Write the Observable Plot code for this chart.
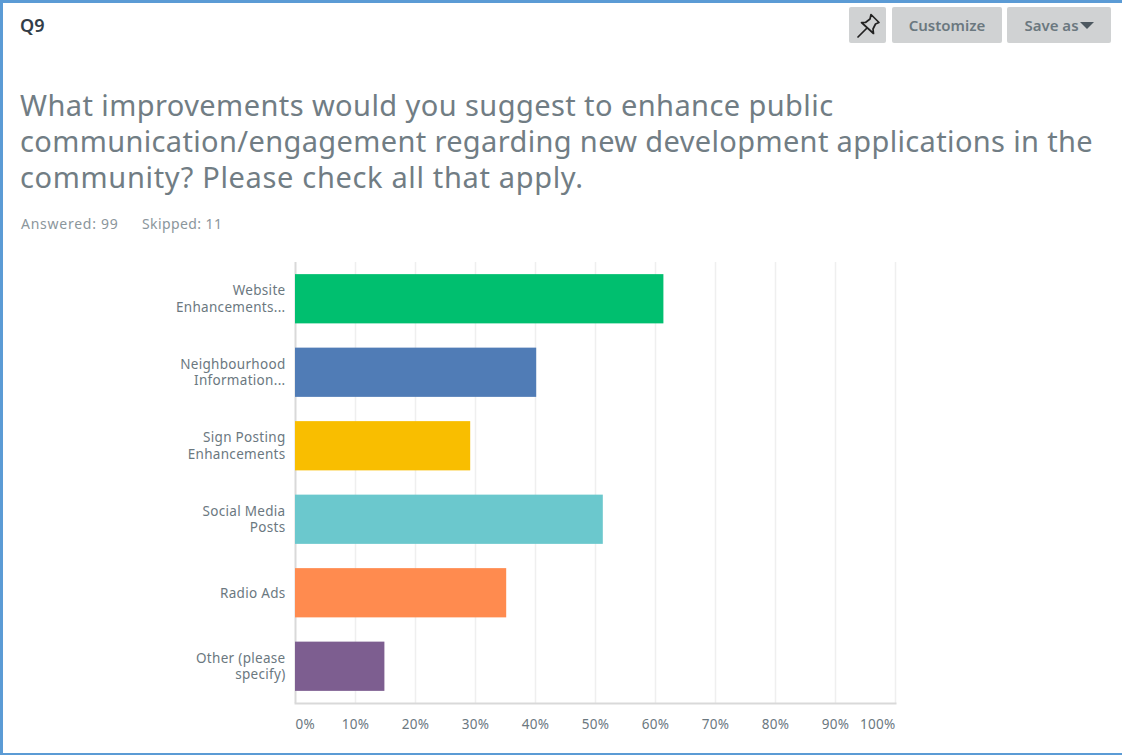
<!DOCTYPE html>
<html>
<head>
<meta charset="utf-8">
<script src="https://cdn.jsdelivr.net/npm/d3@7"></script>
<script src="https://cdn.jsdelivr.net/npm/@observablehq/plot@0.6"></script>
<style>
  html, body { margin: 0; padding: 0; background: #fff; }
  body { width: 1122px; height: 755px; overflow: hidden; font-family: "Noto Sans", sans-serif; }
  #card { position: relative; width: 1122px; height: 755px; box-sizing: border-box; overflow: hidden; }
  .edge { position: absolute; background: #5b9bd5; }
  #q { position: absolute; left: 20px; top: 14px; font-size: 18px; font-weight: 600; color: #333e48; line-height: 22px; }
  #title { position: absolute; left: 20px; top: 87px; width: 1095px; font-size: 29px; letter-spacing: 0.36px; line-height: 36px; color: #717d84; white-space: nowrap; }
  .meta { position: absolute; top: 215px; font-size: 14px; letter-spacing: 0.4px; line-height: 18px; color: #8b969c; white-space: pre; }
  .btn { position: absolute; top: 7px; height: 36px; background: #d0d2d3; border-radius: 2px; color: #6b787f;
         font-size: 15px; font-weight: 600; line-height: 37px; text-align: center; white-space: nowrap; }
  .caret { display: inline-block; width: 0; height: 0; border-left: 7px solid transparent; border-right: 7px solid transparent;
           border-top: 7px solid #4d5860; vertical-align: 2px; margin-left: 1px; }
  #chart { position: absolute; left: 0; top: 245px; }
  #chart svg { display: block; background: transparent; }
  #chart svg text { letter-spacing: 0.3px; }
</style>
</head>
<body>
<div id="card">
  <div class="edge" style="left:0;top:0;width:1122px;height:3px"></div>
  <div class="edge" style="left:0;top:0;width:3px;height:755px"></div>
  <div class="edge" style="left:0;top:753px;width:1122px;height:2px"></div>
  <div id="q">Q9</div>
  <div class="btn" style="left:849px;width:37px">
    <svg width="37" height="36" viewBox="0 0 37 36" style="display:block">
      <g fill="none" stroke="#222" stroke-width="1.7" stroke-linejoin="round" stroke-linecap="round">
        <path d="M22 7.5 L30 15.5 L26.5 17 L24 22 L24.5 26.5 L12.5 15.5 L16.5 15.5 L21 12 Z"/>
        <path d="M17.5 21.5 L9 30"/>
      </g>
    </svg>
  </div>
  <div class="btn" style="left:892px;width:110px">Customize</div>
  <div class="btn" style="left:1007px;width:104px">Save as<span class="caret"></span></div>
  <div id="title"><span style="letter-spacing:0.42px">What improvements would you suggest to enhance public</span><br>communication/engagement regarding new development applications in the<br><span style="letter-spacing:0.66px">community? Please check all that apply.</span></div>
  <div class="meta" style="left:21px;letter-spacing:0.75px">Answered: 99</div>
  <div class="meta" style="left:142px">Skipped: 11</div>
  <div id="chart"></div>
</div>
<script>
// Share of respondents choosing each option, in percent
const categories = [
  "Website\nEnhancements...",
  "Neighbourhood\nInformation...",
  "Sign Posting\nEnhancements",
  "Social Media\nPosts",
  "Radio Ads",
  "Other (please\nspecify)"
];
const percents = [61.4, 40.2, 29.2, 51.3, 35.2, 14.9];
const barColors = ["#00bf6f", "#507cb6", "#f9be00", "#6bc8cd", "#ff8b4f", "#7d5e90"];
const middleTicks = [10, 20, 30, 40, 50, 60, 70, 80, 90];
const gridTicks = [...middleTicks, 100];

const rows = categories.map((name, i) => ({name, percent: percents[i]}));
const labelFont = {fontSize: 13.5, fill: "#6b787f"};
const pct = d => `${d}%`;
const tickGap = 16;

const chart = Plot.plot({
  width: 1122,
  height: 510,
  marginLeft: 295,
  marginRight: 227,
  marginTop: 17,
  marginBottom: 52,
  style: {fontFamily: "'Noto Sans', sans-serif", background: "transparent"},
  x: {domain: [0, 100]},
  y: {domain: categories, paddingInner: 0.33, paddingOuter: 0.165, round: false, label: null},
  color: {domain: categories, range: barColors},
  marks: [
    Plot.ruleX(gridTicks, {x: d => d, stroke: "#efefef", strokeWidth: 1.5, strokeOpacity: 1}),
    Plot.ruleX([0], {stroke: "#d9d9d9", strokeWidth: 2}),
    Plot.barX(rows, {x: "percent", y: "name", fill: "name"}),
    Plot.axisY({
      anchor: "left", tickSize: 0, tickPadding: 10, label: null, lineHeight: 1.22,
      textAnchor: "end", dy: -1, ...labelFont
    }),
    Plot.axisX({
      anchor: "bottom", ticks: middleTicks, tickFormat: pct, tickSize: 0, tickPadding: tickGap,
      label: null, ...labelFont
    }),
    // The two end labels stay inside the plot's width
    Plot.axisX({
      anchor: "bottom", ticks: [0], tickFormat: pct, tickSize: 0, tickPadding: tickGap,
      textAnchor: "start", label: null, ...labelFont
    }),
    Plot.axisX({
      anchor: "bottom", ticks: [100], tickFormat: pct, tickSize: 0, tickPadding: tickGap,
      textAnchor: "end", label: null, ...labelFont
    }),
    // Baseline along the bottom of the plot area
    Plot.frame({anchor: "bottom", stroke: "#d9d9d9", strokeWidth: 2, strokeOpacity: 1})
  ]
});
document.getElementById("chart").appendChild(chart);
</script>
</body>
</html>
